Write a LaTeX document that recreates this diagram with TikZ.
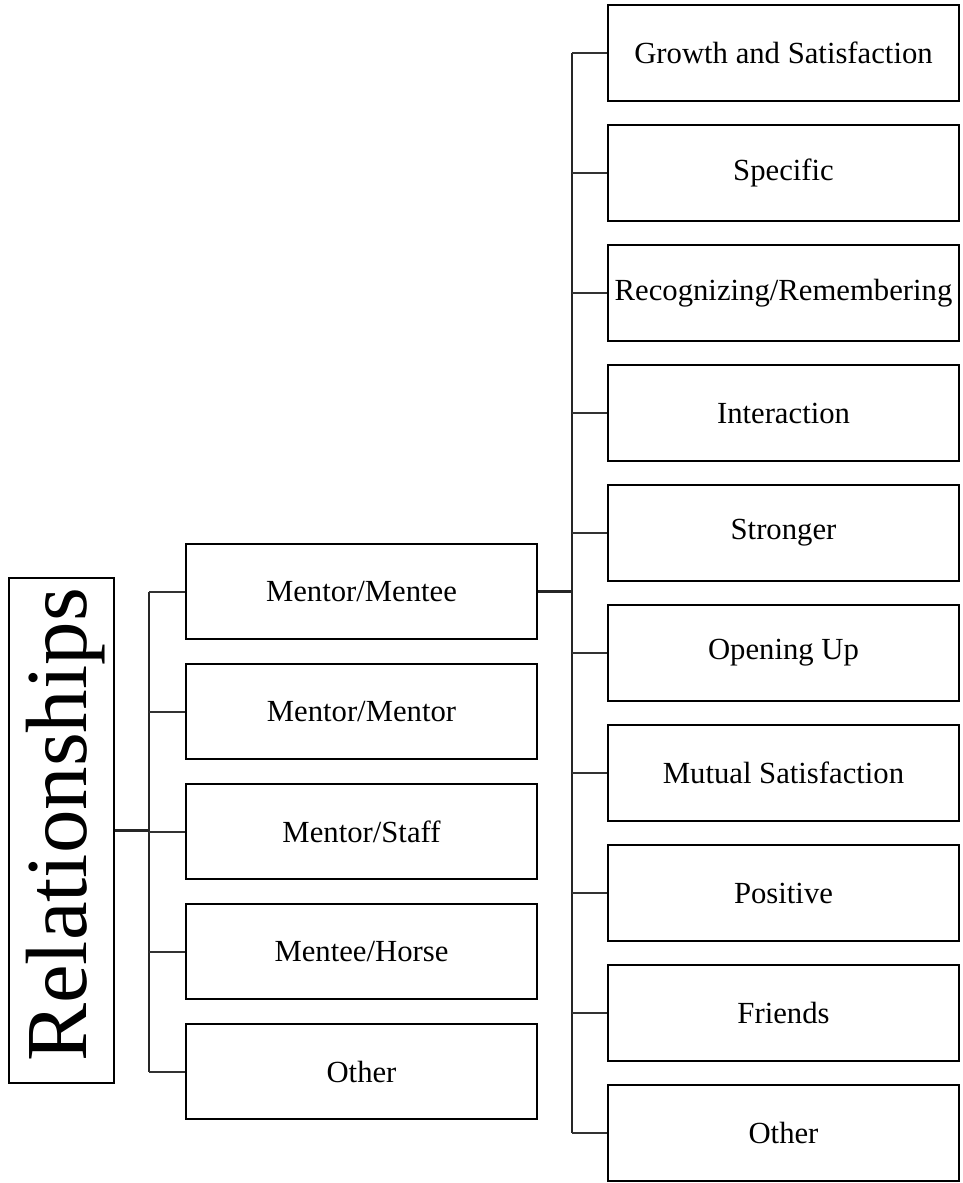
\documentclass[tikz,border=0pt]{standalone}
\usepackage{fontspec}
\setmainfont{Liberation Serif}
\begin{document}
\begin{tikzpicture}[x=1pt,y=-1pt,
  box/.style={draw=black,line width=2pt,rectangle,inner sep=0pt,minimum width=351pt,minimum height=96pt,font=\fontsize{30.7}{36}\selectfont},
  conn/.style={draw=black!80,line width=2pt},
  trunk/.style={draw=black!85,line width=2.6pt}]
\useasboundingbox (0,0) rectangle (963,1183);
% root
\node[draw=black,line width=2pt,rectangle,inner sep=0pt,minimum width=105pt,minimum height=505pt] (rel) at (61.5,830.5) {};
\node[rotate=90,inner sep=0pt,font=\fontsize{87}{90}\selectfont] (reltext) at (66,825) {Relationships};
% middle column
\node[box,minimum height=95pt] (m1) at (361.5,591.5) {Mentor/Mentee};
\node[box,minimum height=95pt] (m2) at (361.5,711.5) {Mentor/Mentor};
\node[box,minimum height=95pt] (m3) at (361.5,831.5) {Mentor/Staff};
\node[box,minimum height=95pt] (m4) at (361.5,951.5) {Mentee/Horse};
\node[box,minimum height=95pt] (m5) at (361.5,1071.5) {Other};
% right column
\node[box] (r1) at (783.5,53) {Growth and Satisfaction};
\node[box] (r2) at (783.5,173) {Specific};
\node[box] (r3) at (783.5,293) {Recognizing/Remembering};
\node[box] (r4) at (783.5,413) {Interaction};
\node[box] (r5) at (783.5,533) {Stronger};
\node[box] (r6) at (783.5,653) {Opening Up};
\node[box] (r7) at (783.5,773) {Mutual Satisfaction};
\node[box] (r8) at (783.5,893) {Positive};
\node[box] (r9) at (783.5,1013) {Friends};
\node[box] (r10) at (783.5,1133) {Other};
% trunks
\coordinate (mtrunk) at (149,0);
\coordinate (rtrunk) at (572,0);
\draw[trunk] (rel.east) -- (rel.east -| mtrunk);
\draw[trunk] (m1.west -| mtrunk) -- (m5.west -| mtrunk);
\foreach \i in {1,...,5} \draw[conn] (m\i.west -| mtrunk) -- (m\i.west);
\draw[trunk] (m1.east) -- (m1.east -| rtrunk);
\draw[trunk] (r1.west -| rtrunk) -- (r10.west -| rtrunk);
\foreach \i in {1,...,10} \draw[conn] (r\i.west -| rtrunk) -- (r\i.west);
\end{tikzpicture}
\end{document}
